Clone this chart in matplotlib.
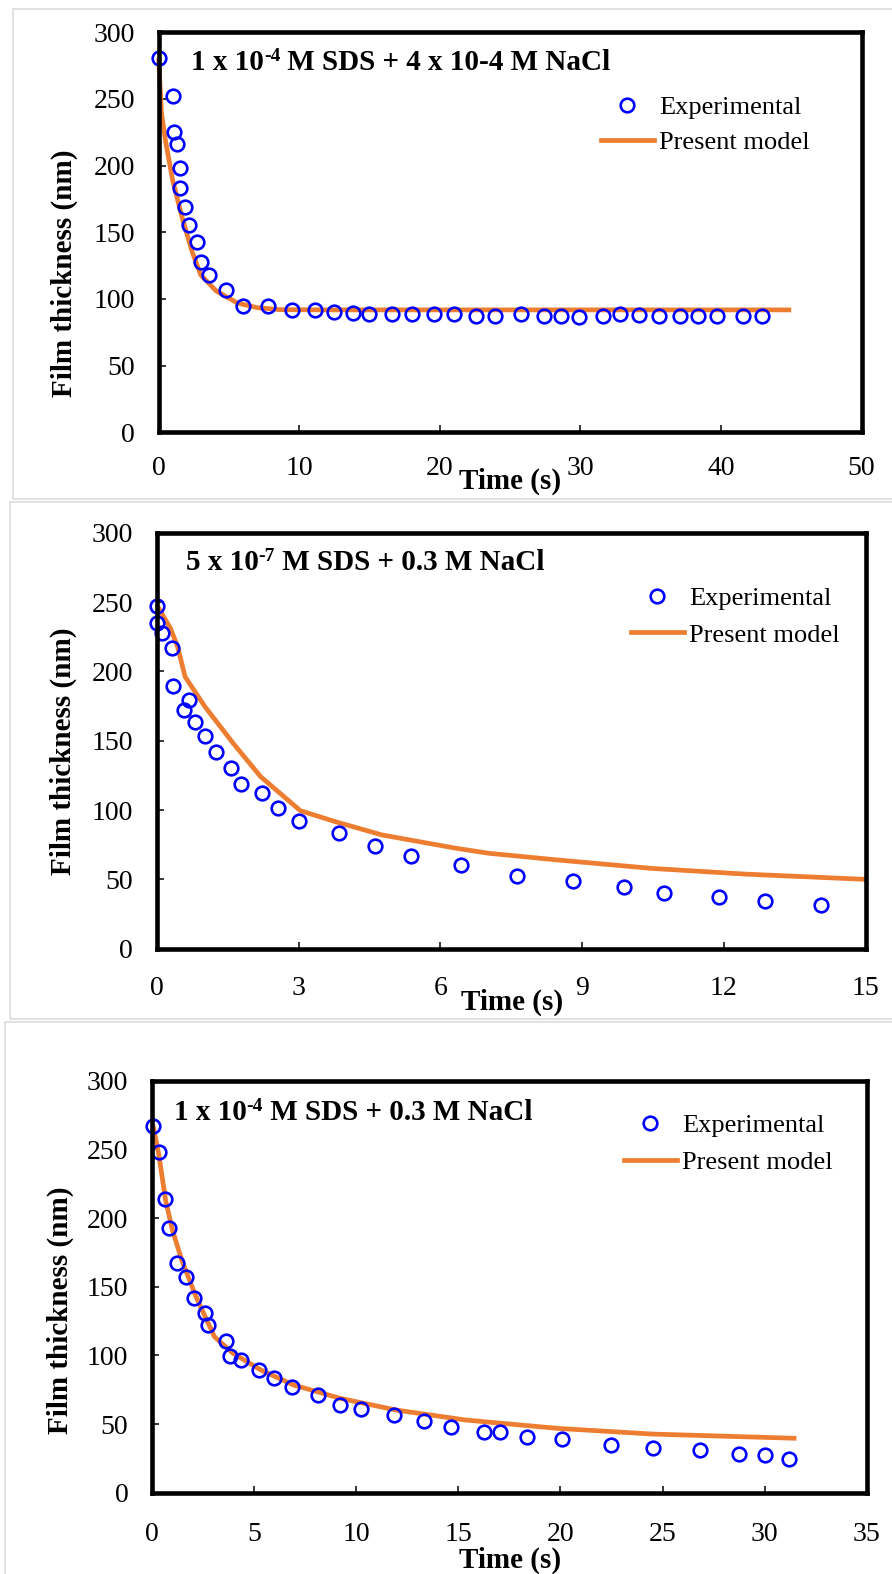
import matplotlib
matplotlib.use("Agg")
import matplotlib.pyplot as plt
from matplotlib.lines import Line2D
from matplotlib.patches import Rectangle

# ---------------- data ----------------
# Panel 1: 1e-4 M SDS + 4e-4 M NaCl
t1 = [0, 1.0, 1.1, 1.3, 1.5, 1.55, 1.85, 2.15, 2.7, 3.0, 3.6, 4.8, 6.0, 7.8, 9.5,
      11.1, 12.5, 13.8, 15.0, 16.6, 18.0, 19.6, 21.0, 22.6, 23.9, 25.8, 27.4, 28.6,
      29.9, 31.6, 32.8, 34.2, 35.6, 37.1, 38.4, 39.7, 41.6, 42.9]
h1 = [281, 252, 225.5, 216, 198.5, 183, 169, 155.5, 142.5, 128, 118, 107, 95, 95, 91.5,
      91.5, 90, 89.5, 89, 89, 89, 89, 88.5, 87, 87.5, 89, 87, 87.5,
      86.5, 87, 89, 88, 87.5, 87.5, 87, 87, 87, 87.5]
m1_t = [0, 0.2, 0.5, 1.0, 1.7, 2.4, 3.0, 4.1, 5.6, 7.0, 8.6, 12, 45]
m1_h = [281, 240, 218, 189, 160, 135, 118, 106, 97, 93.5, 92, 91.8, 91.8]

# Panel 2: 5e-7 M SDS + 0.3 M NaCl
t2 = [0.0, 0.0, 0.11, 0.33, 0.35, 0.57, 0.68, 0.8, 1.03, 1.25, 1.58, 1.79, 2.23, 2.56,
      3.0, 3.86, 4.62, 5.37, 6.44, 7.63, 8.8, 9.88, 10.73, 11.9, 12.88, 14.05]
h2 = [247, 234.6, 227.4, 216.6, 189.4, 172.1, 179.3, 163.7, 153.6, 141.6, 130.5, 118.8,
      112.5, 101.2, 92.1, 83.7, 74.3, 67.1, 60.6, 52.4, 49, 44.7, 40.4, 37.5, 34.6, 31.7]
m2_t = [0, 0.29, 0.44, 0.6, 1.02, 1.62, 2.2, 3.04, 3.78, 4.77, 6.34, 7.03, 8.51, 10.48, 12.45, 15.0]
m2_h = [247.8, 231, 217.8, 196, 174.5, 148, 124, 99.5, 91.6, 82, 72.4, 68.8, 63.9, 57.9, 53.8, 50]

# Panel 3: 1e-4 M SDS + 0.3 M NaCl
t3 = [0.05, 0.37, 0.62, 0.83, 1.24, 1.67, 2.04, 2.61, 2.77, 3.63, 3.84, 4.38, 5.25, 6.0,
      6.85, 8.12, 9.19, 10.26, 11.86, 13.34, 14.64, 16.24, 17.06, 18.35, 20.06, 22.46,
      24.55, 26.81, 28.75, 30.02, 31.19]
h3 = [267, 248, 214, 192.7, 167.5, 157.3, 141.5, 131, 121.8, 110.4, 99.3, 96.8, 89.3, 83.3,
      77.2, 71.1, 63.8, 60.7, 56.8, 52.2, 48.1, 44.4, 44.4, 40.8, 38.8, 34.7,
      32.3, 30.8, 28.4, 27.2, 24.5]
m3_t = [0.05, 0.33, 0.67, 1.01, 1.47, 2.15, 3.06, 3.97, 5.34, 6.94, 9.22, 11.95, 15.37, 19.9, 24.5, 31.55]
m3_h = [267.7, 247, 213, 191, 169, 143, 113.6, 101.5, 89.3, 78.4, 68.7, 60.2, 52.9, 46.8, 42.7, 39.6]

title_main = ["1 x 10", "5 x 10", "1 x 10"]
title_sup = ["-4", "-7", "-4"]
title_rest = [" M SDS + 4 x 10-4 M NaCl", " M SDS + 0.3 M NaCl", " M SDS + 0.3 M NaCl"]
x_ticks = [list(range(0, 51, 10)), list(range(0, 16, 3)), list(range(0, 36, 5))]
x_lims = [(0, 50), (0, 15), (0, 35)]
y_ticks = list(range(0, 301, 50))
ylabel = "Film thickness (nm)"
xlabel = "Time (s)"
leg_labels = ["Experimental", "Present model"]

# ---------------- style ----------------
plt.rcParams['font.family'] = ['Liberation Serif', 'DejaVu Serif']
W, H = 892, 1574
fig = plt.figure(figsize=(W / 100, H / 100), dpi=100)
fig.patch.set_facecolor('white')

BLUE = '#0000FF'
ORANGE = '#ED7D31'


def fx(px):
    return px / W


def fy(py):
    return 1 - py / H


# axes pixel boxes: (left, right, top, bottom)
boxes = [(158.6, 861.5, 32.3, 432.3),
         (156.8, 865.5, 532.7, 948.7),
         (151.9, 866.9, 1080.7, 1492.7)]
frames = [(12.5, 9.3, 499), (9.7, 501.7, 1019), (5.0, 1021.7, 1590)]
title_pos = [(191, 63), (185.6, 563), (173.5, 1113)]
leg_pos = [(601, 96, 0.42), (631, 587, 0.48), (624, 1114, 0.5)]
xlab_pos = [(510, 481), (512, 1002), (510, 1560)]
ylab_pos = [(64, 273), (63, 751), (60, 1310)]
x_pads = [17, 20, 21]

data = [(t1, h1, m1_t, m1_h), (t2, h2, m2_t, m2_h), (t3, h3, m3_t, m3_h)]

for i in range(3):
    # gray frame around each panel
    fl, ft, fb = frames[i]
    fig.add_artist(Rectangle((fx(fl), fy(fb)), fx(W + 20 - fl), (fb - ft) / H,
                             transform=fig.transFigure, fill=False,
                             edgecolor='#d9d9d9', linewidth=1.1))

    l, r, t, b = boxes[i]
    ax = fig.add_axes([fx(l), fy(b), (r - l) / W, (b - t) / H])
    te, he, tm, hm = data[i]
    ax.plot(tm, hm, color=ORANGE, lw=3.4, solid_capstyle='butt', zorder=2,
            clip_on=False)
    ax.plot(te, he, linestyle='none', marker='o', markersize=9.8,
            markerfacecolor='none', markeredgecolor=BLUE, markeredgewidth=1.9,
            zorder=3, clip_on=False)
    ax.set_xlim(*x_lims[i])
    ax.set_ylim(0, 300)
    ax.set_xticks(x_ticks[i])
    ax.set_yticks(y_ticks)
    ax.tick_params(direction='in', length=5, width=1.1, labelsize=20, pad=17,
                   colors='black')
    ax.tick_params(axis='x', pad=x_pads[i])
    for s in ax.spines.values():
        s.set_linewidth(3.3)
        s.set_color('black')
        s.set_zorder(4)

    # title with superscript
    tx, ty = title_pos[i]
    a1 = fig.text(fx(tx), fy(ty), title_main[i], fontsize=21, fontweight='bold',
                  ha='left', va='center')
    a2 = ax.annotate(title_sup[i], xy=(1, 1.05), xycoords=a1, fontsize=14,
                     fontweight='bold', ha='left', va='top')
    ax.annotate(title_rest[i], xy=(1, 0), xycoords=(a2, a1), fontsize=21,
                fontweight='bold', ha='left', va='bottom')

    # legend
    lx, ly, lsp = leg_pos[i]
    handles = [Line2D([], [], linestyle='none', marker='o', markersize=9.8,
                      markerfacecolor='none', markeredgecolor=BLUE,
                      markeredgewidth=1.9),
               Line2D([], [], color=ORANGE, lw=3.4)]
    ax.legend(handles, leg_labels, loc='upper left',
              bbox_to_anchor=(fx(lx), fy(ly)), bbox_transform=fig.transFigure,
              frameon=False, fontsize=19, handlelength=2.0, handletextpad=0.2,
              labelspacing=lsp, borderpad=0, borderaxespad=0)

    # axis labels
    xx, xy_ = xlab_pos[i]
    fig.text(fx(xx), fy(xy_), xlabel, fontsize=21, fontweight='bold',
             ha='center', va='center')
    yx, yy = ylab_pos[i]
    fig.text(fx(yx), fy(yy), ylabel, fontsize=21, fontweight='bold',
             ha='center', va='center', rotation=90)

fig.savefig('out.png', dpi=100)
